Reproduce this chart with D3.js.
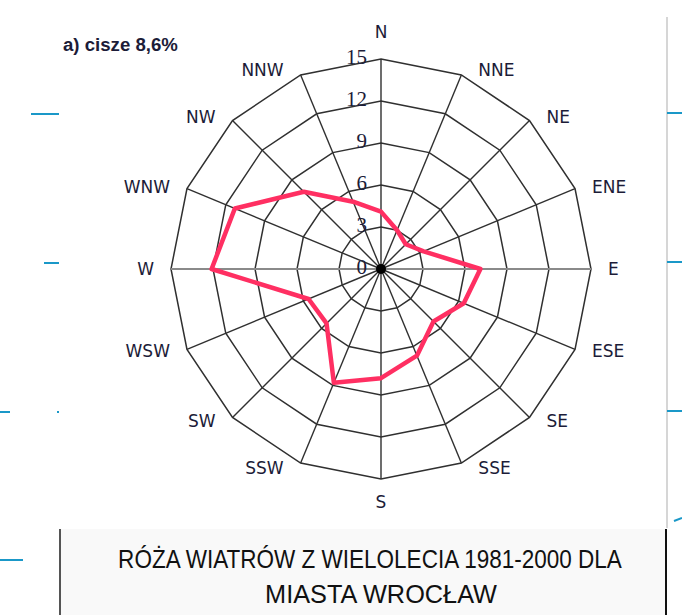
<!DOCTYPE html>
<html lang="pl">
  <head>
    <meta charset="utf-8">
    <title>Róża wiatrów Wrocław</title>
    <script src="https://d3js.org/d3.v7.min.js"></script>
    <style>
      html, body {
        padding: 0px;
        margin: 0px;
        background: #fff;
      }
      svg {
        display: block;
      }
      .grid path {
        fill: none;
        stroke: #303030;
        stroke-width: 1.5;
      }
      .spoke {
        stroke: #303030;
        stroke-width: 1.4;
      }
      .dir-label {
        font: 17px "DejaVu Sans", sans-serif;
        fill: #1c1c38;
      }
      .tick-label {
        font: 21px "Liberation Serif", serif;
        fill: #1c1c38;
      }
      .caption {
        font-family: "Liberation Sans Narrow", "Arial Narrow", "Liberation Sans", sans-serif;
        font-size: 26px;
        fill: #111;
      }
    </style>
  </head>
  <body>
    <div id="chart"></div>
    <script>
      // wind directions, clockwise from north
      var directions = ["N", "NNE", "NE", "ENE", "E", "ESE", "SE", "SSE",
                        "S", "SSW", "SW", "WSW", "W", "WNW", "NW", "NNW"];
      // frequency of wind from each direction [%]
      var frequency = [4.1, 3.0, 2.5, 3.3, 7.1, 6.4, 5.3, 6.7,
                       7.8, 8.8, 5.5, 5.6, 12.1, 11.3, 7.8, 5.2];
      var ringTicks = [3, 6, 9, 12, 15];
      var tickLabels = ["0", "3", "6", "9", "12", "15"];
      var calmLabel = "a) cisze 8,6%";
      var captionLines = ["RÓŻA WIATRÓW Z WIELOLECIA 1981-2000 DLA", "MIASTA WROCŁAW"];

      var width = 682, height = 615;
      var cx = 381, cy = 269;

      var svg = d3.select("#chart").append("svg")
        .attr("width", width)
        .attr("height", height);

      var r = d3.scaleLinear().domain([0, 15]).range([0, 210]);
      var step = 2 * Math.PI / directions.length;
      function ang(i) { return i * step; }

      function px(i, v) { return cx + r(v) * Math.sin(ang(i)); }
      function py(i, v) { return cy - r(v) * Math.cos(ang(i)); }

      // --- page decoration (slide remnants) ---
      var deco = svg.append("g").attr("class", "deco");
      deco.append("line").attr("x1", 667).attr("x2", 667).attr("y1", 17).attr("y2", 528)
        .attr("stroke", "#c8c8c8").attr("stroke-width", 1.5);
      [113, 262, 411].forEach(function(y) {
        deco.append("line").attr("x1", 667).attr("x2", 682).attr("y1", y).attr("y2", y)
          .attr("stroke", "#1a98c8").attr("stroke-width", 2);
      });
      deco.append("line").attr("x1", 674).attr("x2", 682).attr("y1", 521).attr("y2", 518)
        .attr("stroke", "#1a98c8").attr("stroke-width", 2);
      [[31, 59, 114], [44, 59, 263], [0, 10, 412], [57, 59, 412], [0, 23, 560]].forEach(function(d) {
        deco.append("line").attr("x1", d[0]).attr("x2", d[1]).attr("y1", d[2]).attr("y2", d[2])
          .attr("stroke", "#1a98c8").attr("stroke-width", 2);
      });

      // caption box
      deco.append("rect").attr("x", 60).attr("y", 529).attr("width", 606).attr("height", 86)
        .attr("fill", "#f9f9f9");
      deco.append("line").attr("x1", 60).attr("x2", 60).attr("y1", 529).attr("y2", 615)
        .attr("stroke", "#555").attr("stroke-width", 2);
      deco.append("line").attr("x1", 666).attr("x2", 666).attr("y1", 529).attr("y2", 615)
        .attr("stroke", "#111").attr("stroke-width", 2);

      // caption lines squeezed to the narrow width of the original
      function caption(txt, x, y, w) {
        var t = svg.append("text").attr("class", "caption")
          .attr("text-anchor", "middle")
          .text(txt);
        var k = Math.min(1, w / t.node().getComputedTextLength());
        t.attr("transform", "translate(" + x + "," + y + ") scale(" + k + ",1)");
      }
      caption(captionLines[0], 370, 568, 504);
      caption(captionLines[1], 381, 603, 232);

      var calm = svg.append("text")
        .style("font-family", "'Liberation Sans Narrow', 'Arial Narrow', 'Liberation Sans', sans-serif")
        .style("font-size", "19px")
        .style("font-weight", "bold")
        .style("fill", "#1c1c38")
        .text(calmLabel);
      var kc = 115 / calm.node().getComputedTextLength();
      calm.attr("transform", "translate(63,51) scale(" + kc + ",1)");

      // --- grid: 16-sided rings ---
      var ringLine = d3.lineRadial()
        .angle(function(d) { return d[0]; })
        .radius(function(d) { return d[1]; })
        .curve(d3.curveLinearClosed);

      var grid = svg.append("g").attr("class", "grid")
        .attr("transform", "translate(" + cx + "," + cy + ")");
      grid.selectAll("path")
        .data(ringTicks)
        .enter().append("path")
        .attr("d", function(t) {
          return ringLine(directions.map(function(d, i) { return [ang(i), r(t)]; }));
        });

      // spokes
      svg.append("g").selectAll("line")
        .data(directions)
        .enter().append("line")
        .attr("class", "spoke")
        .attr("x1", cx).attr("y1", cy)
        .attr("x2", function(d, i) { return px(i, 15); })
        .attr("y2", function(d, i) { return py(i, 15); })
        .style("stroke", function(d) { return (d == "E" || d == "W") ? "#8a8a8a" : null; })
        .style("stroke-width", function(d) { return (d == "E" || d == "W") ? 1.8 : null; });

      // radial tick labels along the north spoke
      svg.append("g").selectAll("text")
        .data(tickLabels)
        .enter().append("text")
        .attr("class", "tick-label")
        .attr("x", cx - 14)
        .attr("y", function(d) { return cy - r(+d) - 2; })
        .attr("text-anchor", "end")
        .attr("dominant-baseline", "central")
        .text(function(d) { return d; });

      // direction labels
      svg.append("g").selectAll("text")
        .data(directions)
        .enter().append("text")
        .attr("class", "dir-label")
        .attr("x", function(d, i) {
          var s = Math.sin(ang(i));
          if (Math.abs(s) < 0.01) return px(i, 15);
          return px(i, 15) + (s > 0 ? 17 : -17);
        })
        .attr("y", function(d, i) {
          var c = Math.cos(ang(i));
          if (d == "N") return py(i, 15) - 27;
          if (d == "S") return py(i, 15) + 23;
          return py(i, 15) - 5 * c;
        })
        .attr("text-anchor", function(d, i) {
          var s = Math.sin(ang(i));
          return Math.abs(s) < 0.01 ? "middle" : (s > 0 ? "start" : "end");
        })
        .attr("dominant-baseline", "central")
        .text(function(d) { return d; });

      // the wind rose itself
      var rose = d3.lineRadial()
        .angle(function(d, i) { return ang(i); })
        .radius(function(d) { return r(d); })
        .curve(d3.curveLinearClosed);

      svg.append("path")
        .attr("transform", "translate(" + cx + "," + cy + ")")
        .attr("d", rose(frequency))
        .attr("fill", "none")
        .attr("stroke", "#ff2f62")
        .attr("stroke-width", 4.5)
        .attr("stroke-linejoin", "round");

      svg.append("circle")
        .attr("cx", cx).attr("cy", cy).attr("r", 5)
        .attr("fill", "#000");
    </script>
  </body>
</html>
